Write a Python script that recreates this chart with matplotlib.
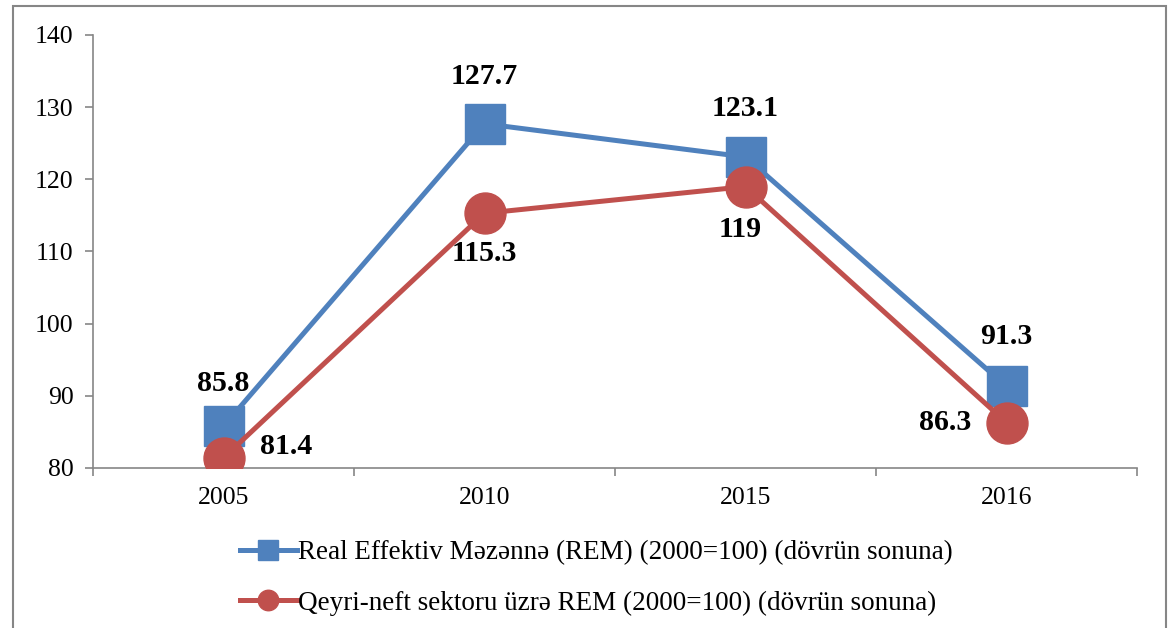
import matplotlib.pyplot as plt
from matplotlib.patches import Rectangle

years = ['2005', '2010', '2015', '2016']
rem = [85.8, 127.7, 123.1, 91.3]
rem_qeyri = [81.4, 115.3, 119, 86.3]
rem_name = 'Real Effektiv Məzənnə (REM) (2000=100) (dövrün sonuna)'
qeyri_name = 'Qeyri-neft sektoru üzrə REM (2000=100) (dövrün sonuna)'

plt.rcParams['font.family'] = ['Liberation Serif', 'DejaVu Serif']

blue = '#4F81BD'
red = '#C0504D'
gray = '#868686'

fig = plt.figure(figsize=(11.71, 6.28), dpi=100)
ax = fig.add_axes([93/1171, 1 - 468/628, (1137 - 93)/1171, (468 - 35)/628])

x = range(len(years))
ax.plot(x, rem, color=blue, lw=3.6, marker='s', ms=29.5, label=rem_name, zorder=3)
ax.plot(x, rem_qeyri, color=red, lw=3.6, marker='o', ms=29.5, label=qeyri_name, zorder=4)

# data labels
lab_font = dict(fontsize=21.5, fontweight='bold', color='black')
rem_off = [(0, 31), (0, 34), (0, 35), (0, 36)]
qeyri_off = [(45, 8), (0, -29), (-4, -31), (-44, 0)]
for i, v in enumerate(rem):
    ax.annotate(f'{v:g}', (i, v), xytext=rem_off[i], textcoords='offset points',
                ha='center', va='center', **lab_font)
for i, v in enumerate(rem_qeyri):
    ax.annotate(f'{v:g}', (i, v), xytext=qeyri_off[i], textcoords='offset points',
                ha='center', va='center', **lab_font)

ax.set_xlim(-0.5, 3.5)
ax.set_ylim(80, 140)
ax.set_yticks(range(80, 141, 10))
ax.set_xticks(list(x))
ax.set_xticklabels(years)
ax.set_xticks([-0.5, 0.5, 1.5, 2.5, 3.5], minor=True)
ax.tick_params(axis='x', which='major', length=0, pad=14, labelsize=18.5)
ax.tick_params(axis='x', which='minor', length=6, color=gray, width=1.2)
ax.tick_params(axis='y', length=6, color=gray, width=1.2, pad=8, labelsize=18.5)

for s in ['top', 'right']:
    ax.spines[s].set_visible(False)
for s in ['left', 'bottom']:
    ax.spines[s].set_color(gray)
    ax.spines[s].set_linewidth(1.2)

ax.legend(loc='upper left', bbox_to_anchor=(240/1171, 1 - 540/628),
          bbox_transform=fig.transFigure, frameon=False,
          prop={'family': ['Liberation Serif', 'DejaVu Serif'], 'size': 19.5},
          markerscale=0.5, handlelength=2.1, handletextpad=0.05,
          labelspacing=0.95, borderpad=0, borderaxespad=0)

fig.patches.append(Rectangle((13/1171, -0.05), (1166 - 13)/1171, 1.05 - 6/628,
                             transform=fig.transFigure, fill=False,
                             edgecolor=gray, lw=1.5))

fig.savefig('out.png', dpi=100)
